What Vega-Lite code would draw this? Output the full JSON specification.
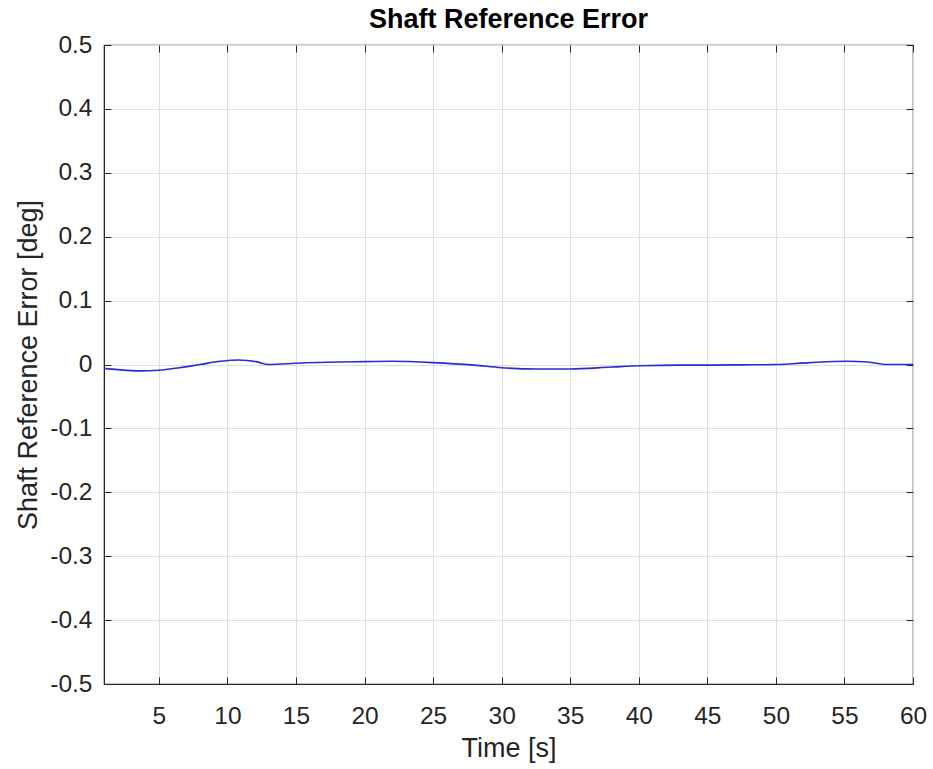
{
  "$schema": "https://vega.github.io/schema/vega-lite/v6.json",
  "autosize": "none",
  "width": 809,
  "height": 639,
  "padding": {"left": 104, "top": 45, "right": 20, "bottom": 85},
  "background": "white",
  "title": {
    "text": "Shaft Reference Error",
    "font": "Liberation Sans",
    "fontSize": 27,
    "fontWeight": "bold",
    "color": "#000000",
    "anchor": "middle",
    "frame": "group",
    "offset": -2
  },
  "config": {
    "view": {"stroke": "#262626", "strokeWidth": 1.2},
    "axis": {
      "labelFont": "Liberation Sans",
      "titleFont": "Liberation Sans",
      "labelFontSize": 24.5,
      "titleFontSize": 27,
      "labelColor": "#262626",
      "titleColor": "#262626",
      "titleFontWeight": "normal",
      "domainColor": "#262626",
      "tickColor": "#262626",
      "gridColor": "#dfdfdf",
      "gridWidth": 1,
      "labelFlush": false,
      "labelOverlap": false
    }
  },
  "data": {
    "values": [
      {"t": 1, "e": -0.006},
      {"t": 2, "e": -0.008},
      {"t": 3.6, "e": -0.010},
      {"t": 5, "e": -0.009},
      {"t": 6.5, "e": -0.005},
      {"t": 8, "e": 0.0},
      {"t": 9.5, "e": 0.005},
      {"t": 10.8, "e": 0.007},
      {"t": 12.1, "e": 0.0045},
      {"t": 13, "e": 0.0},
      {"t": 15, "e": 0.002},
      {"t": 18, "e": 0.004},
      {"t": 20, "e": 0.0045},
      {"t": 22, "e": 0.005},
      {"t": 25, "e": 0.003},
      {"t": 28, "e": -0.001},
      {"t": 30, "e": -0.005},
      {"t": 32.6, "e": -0.007},
      {"t": 35, "e": -0.007},
      {"t": 38, "e": -0.004},
      {"t": 40, "e": -0.002},
      {"t": 43, "e": -0.001},
      {"t": 45, "e": -0.001},
      {"t": 48, "e": -0.0005},
      {"t": 50, "e": 0.0},
      {"t": 52.5, "e": 0.003},
      {"t": 55.2, "e": 0.005},
      {"t": 56.7, "e": 0.004},
      {"t": 58.1, "e": 0.0},
      {"t": 60, "e": 0.0}
    ]
  },
  "encoding": {
    "x": {
      "field": "t",
      "type": "quantitative",
      "scale": {"domain": [1, 60], "nice": false, "zero": false}
    },
    "y": {
      "field": "e",
      "type": "quantitative",
      "scale": {"domain": [-0.5, 0.5], "nice": false}
    }
  },
  "layer": [
    {
      "mark": {"type": "line", "color": "#2a2ad8", "strokeWidth": 1.6, "interpolate": "monotone"},
      "encoding": {
        "x": {
          "field": "t", "type": "quantitative",
          "axis": {
            "title": "Time [s]",
            "values": [5, 10, 15, 20, 25, 30, 35, 40, 45, 50, 55, 60],
            "tickSize": -7,
            "labelPadding": 27,
            "titlePadding": 8,
            "grid": true
          }
        },
        "y": {
          "field": "e", "type": "quantitative",
          "axis": {
            "title": "Shaft Reference Error [deg]",
            "values": [-0.5, -0.4, -0.3, -0.2, -0.1, 0, 0.1, 0.2, 0.3, 0.4, 0.5],
            "labelExpr": "replace(format(datum.value, '.1~f'), '\u2212', '-')",
            "tickSize": -7,
            "labelPadding": 19,
            "titlePadding": 7,
            "grid": true
          }
        }
      }
    },
    {
      "mark": {"type": "line", "opacity": 0, "interpolate": "monotone"},
      "encoding": {
        "x": {
          "field": "t", "type": "quantitative",
          "axis": {
            "orient": "top", "title": null, "labels": false, "grid": false, "domain": false,
            "values": [5, 10, 15, 20, 25, 30, 35, 40, 45, 50, 55, 60],
            "tickSize": -7
          }
        },
        "y": {
          "field": "e", "type": "quantitative",
          "axis": {
            "orient": "right", "title": null, "labels": false, "grid": false, "domain": false,
            "values": [-0.5, -0.4, -0.3, -0.2, -0.1, 0, 0.1, 0.2, 0.3, 0.4, 0.5],
            "tickSize": -7
          }
        }
      }
    }
  ],
  "resolve": {"axis": {"x": "independent", "y": "independent"}}
}
